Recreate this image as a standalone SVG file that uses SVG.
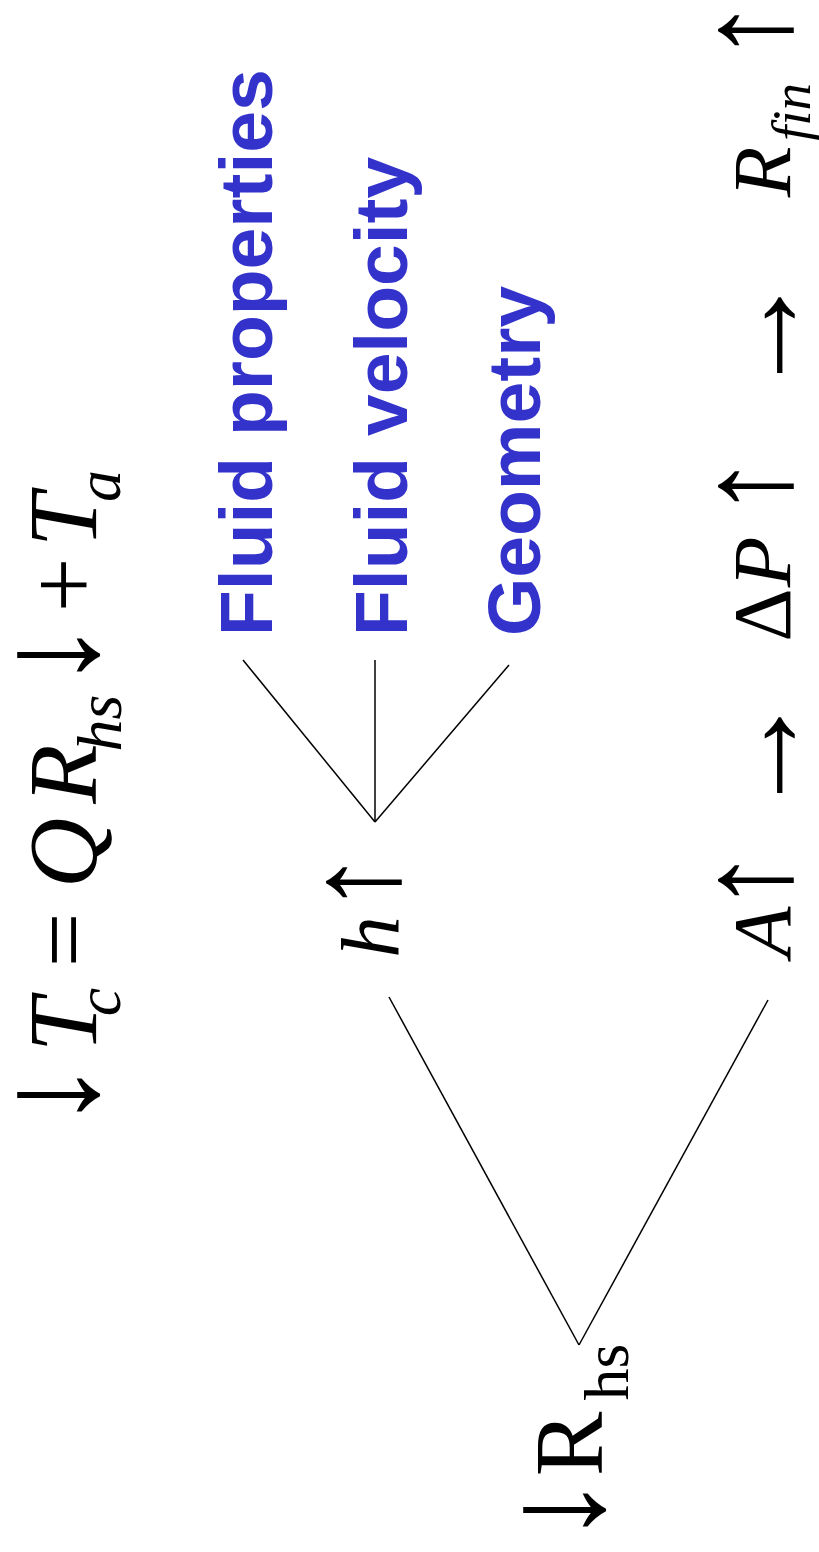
<svg xmlns="http://www.w3.org/2000/svg" width="819" height="1552" viewBox="0 0 819 1552">
<style>
.m{font-family:"Liberation Serif","Times New Roman",serif;fill:#000;text-anchor:middle}
.i{font-style:italic}
.big{font-size:97px}
.mid{font-size:83px}
.sub{font-size:64px}
.subs{font-size:55px}
.ab{font-size:140px}
.am{font-size:128px}
.ah{font-size:128px}
.fl{font-family:"Liberation Sans",Arial,sans-serif;font-weight:bold;font-size:75px;fill:#3333cc}
.c{stroke:#000;stroke-width:1.5;fill:none}
</style>
<rect width="819" height="1552" fill="#fff"/>
<g id="connectors">
<line class="c" x1="243" y1="660" x2="375" y2="822"/>
<line class="c" x1="375" y1="660" x2="375" y2="822"/>
<line class="c" x1="509" y1="665" x2="375" y2="822"/>
<line class="c" x1="389" y1="997" x2="579" y2="1345"/>
<line class="c" x1="768" y1="1000" x2="579" y2="1345"/>
</g>
<g transform="translate(0,1552) rotate(-90)">
<g id="equation">
<text class="m ab" x="457" y="96">↓</text>
<text class="m big i" x="527" y="96">T</text>
<text class="m sub i" x="550" y="120">c</text>
<text class="m big" x="612" y="96">=</text>
<text class="m big i" x="699" y="96">Q</text>
<text class="m big i" x="778" y="96">R</text>
<text class="m sub i" x="829" y="121">hs</text>
<text class="m ab" x="897" y="96">↓</text>
<text class="m big" x="967" y="96">+</text>
<text class="m big i" x="1032" y="96">T</text>
<text class="m sub i" x="1066" y="120">a</text>
</g>
<g id="h-node">
<text class="m mid i" x="615" y="398">h</text>
<text class="m am" x="670" y="398">↑</text>
</g>
<g id="fluid-properties"><text class="fl" x="916" y="272">Fluid properties</text></g>
<g id="fluid-velocity"><text class="fl" x="916" y="407">Fluid velocity</text></g>
<g id="geometry"><text class="fl" x="916" y="540">Geometry</text></g>
<g id="area-chain">
<text class="m mid i" x="620" y="790">A</text>
<text class="m am" x="672" y="790">↑</text>
<text class="m ah" x="797" y="801">→</text>
<text class="m mid" x="937" y="790">Δ</text>
<text class="m mid i" x="990" y="790">P</text>
<text class="m am" x="1066" y="790">↑</text>
<text class="m ah" x="1217" y="801">→</text>
<text class="m mid i" x="1380" y="790">R</text>
<text class="m subs i" x="1440" y="810">fin</text>
<text class="m am" x="1522" y="790">↑</text>
</g>
<g id="rhs-node">
<text class="m ab" x="42" y="602">↓</text>
<text class="m big" x="108" y="602">R</text>
<text class="m sub" x="180" y="628">hs</text>
</g>
</g>
</svg>
